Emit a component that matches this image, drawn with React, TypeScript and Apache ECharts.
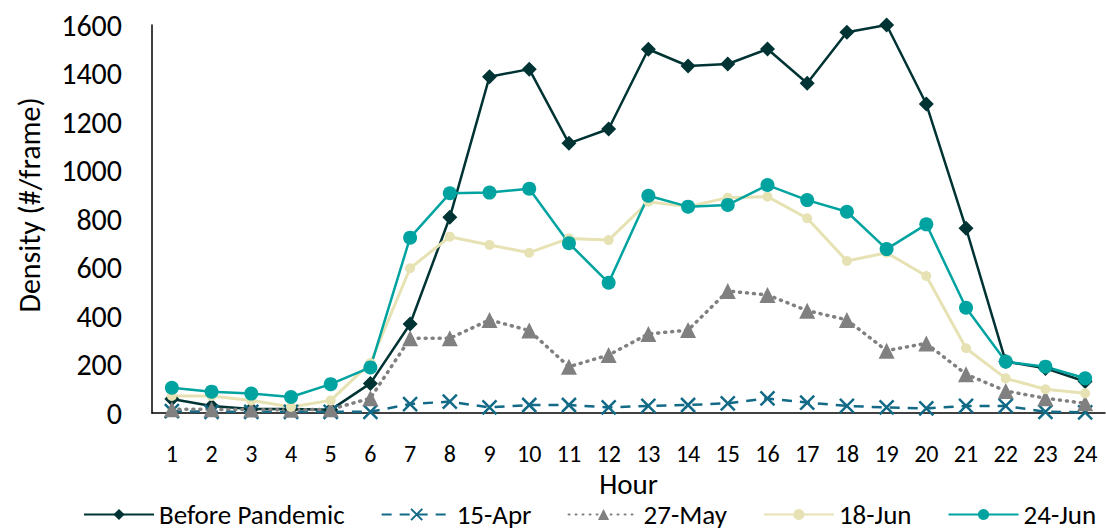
import React, { useEffect, useRef } from "react";
import * as echarts from "echarts";

const hours = ["1","2","3","4","5","6","7","8","9","10","11","12","13","14","15","16","17","18","19","20","21","22","23","24"];
const beforePandemic = [58, 29, 16, 16, 13, 122, 367, 807, 1387, 1418, 1112, 1171, 1500, 1431, 1439, 1501, 1360, 1570, 1600, 1274, 762, 212, 184, 130];
const apr15 = [8, 5, 5, 5, 5, 5, 37, 47, 23, 33, 33, 23, 29, 33, 40, 60, 43, 29, 23, 19, 29, 29, 5, 3];
const may27 = [15, 15, 14, 13, 15, 61, 308, 308, 384, 340, 191, 239, 326, 342, 503, 487, 422, 384, 257, 287, 160, 91, 61, 40];
const jun18 = [70, 70, 52, 25, 52, 206, 597, 727, 693, 661, 720, 713, 871, 851, 888, 892, 803, 627, 661, 565, 267, 143, 98, 81];
const jun24 = [104, 88, 80, 66, 119, 188, 723, 906, 909, 925, 700, 537, 896, 851, 858, 940, 878, 830, 676, 778, 434, 212, 191, 143];
const legendNames = ["Before Pandemic", "15-Apr", "27-May", "18-Jun", "24-Jun"];

const FONT = "Carlito, Lato, sans-serif";
const X_SYMBOL = "path://M0,0L10,10M10,0L0,10";

export default function App() {
  const ref = useRef<HTMLDivElement>(null);
  useEffect(() => {
    if (!ref.current) return;
    const chart = echarts.init(ref.current, undefined, { renderer: "svg" });
    chart.setOption({
      animation: false,
      backgroundColor: "#ffffff",
      textStyle: { fontFamily: FONT, color: "#000" },
      grid: { left: 152, right: 1, top: 25, bottom: 118 },
      legend: {
        left: 78,
        top: 496,
        width: 1400,
        itemWidth: 70,
        itemHeight: 14,
        itemGap: 36,
        textStyle: { fontFamily: FONT, fontSize: 27, color: "#000" },
        data: legendNames,
      },
      xAxis: {
        type: "category",
        data: hours,
        boundaryGap: true,
        name: "Hour",
        nameLocation: "middle",
        nameGap: 50,
        nameTextStyle: { fontFamily: FONT, fontSize: 29, color: "#000" },
        axisLine: { lineStyle: { color: "#000", width: 1.5 } },
        axisTick: { show: false },
        axisLabel: { fontFamily: FONT, fontSize: 24, color: "#000", margin: 28 },
        splitLine: { show: false },
      },
      yAxis: {
        type: "value",
        min: 0,
        max: 1600,
        interval: 200,
        name: "Density (#/frame)",
        nameLocation: "middle",
        nameGap: 108,
        nameRotate: 90,
        nameTextStyle: { fontFamily: FONT, fontSize: 30, color: "#000", padding: [0, 0, 0, 28] },
        axisLine: { show: true, lineStyle: { color: "#000", width: 1.5 } },
        axisTick: { show: false },
        axisLabel: { fontFamily: FONT, fontSize: 30, color: "#000", margin: 30, formatter: (v: number) => String(v) },
        splitLine: { show: false },
      },
      series: [
        {
          name: "Before Pandemic",
          type: "line",
          data: beforePandemic,
          symbol: "diamond",
          symbolSize: 15,
          color: "#003333",
          lineStyle: { color: "#003333", width: 2.5 },
          itemStyle: { color: "#003333" },
        },
        {
          name: "15-Apr",
          type: "line",
          data: apr15,
          symbol: X_SYMBOL,
          symbolSize: 14,
          color: "#136a86",
          lineStyle: { color: "#136a86", width: 2.5, type: [10, 8] },
          itemStyle: { color: "#136a86", borderColor: "#136a86", borderWidth: 2.5 },
        },
        {
          name: "27-May",
          type: "line",
          data: may27,
          symbol: "triangle",
          symbolSize: 16,
          color: "#808080",
          lineStyle: { color: "#808080", width: 3.5, type: [1, 6], cap: "round" },
          itemStyle: { color: "#808080" },
        },
        {
          name: "18-Jun",
          type: "line",
          data: jun18,
          symbol: "circle",
          symbolSize: 10,
          color: "#e6e2b4",
          lineStyle: { color: "#e6e2b4", width: 3 },
          itemStyle: { color: "#e6e2b4" },
        },
        {
          name: "24-Jun",
          type: "line",
          data: jun24,
          symbol: "circle",
          symbolSize: 14,
          color: "#00a3a0",
          lineStyle: { color: "#00a3a0", width: 2.5 },
          itemStyle: { color: "#00a3a0" },
        },
      ],
    });
    return () => chart.dispose();
  }, []);
  return (
    <div
      ref={ref}
      style={{ position: "fixed", left: 0, top: 0, width: 1106, height: 531, background: "#fff" }}
    />
  );
}
